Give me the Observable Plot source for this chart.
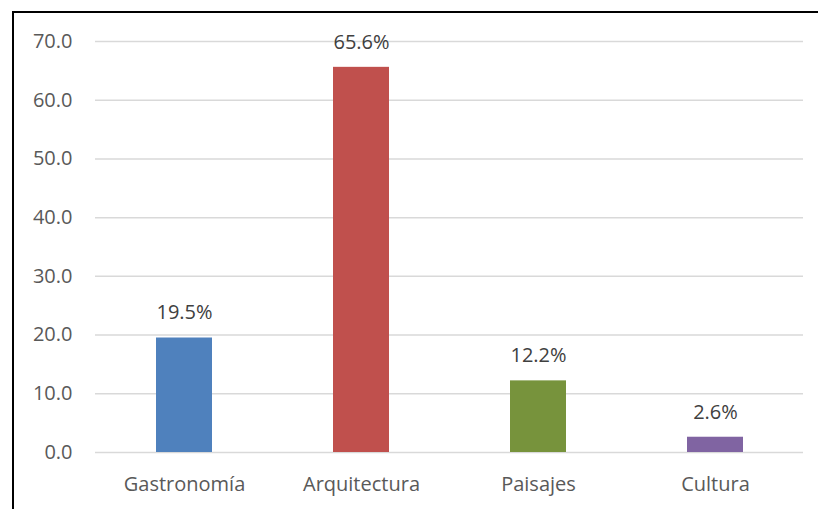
<!DOCTYPE html>
<html>
<head>
<meta charset="utf-8">
<script src="https://cdn.jsdelivr.net/npm/d3@7"></script>
<script src="https://cdn.jsdelivr.net/npm/@observablehq/plot@0.6"></script>
<style>
  html, body { margin: 0; padding: 0; background: #fff; }
  #wrap { position: relative; width: 818px; height: 509px; overflow: hidden; }
  #box { position: absolute; left: 12px; top: 11px; width: 830px; height: 520px;
         border-left: 2px solid #000; border-top: 2px solid #000; box-sizing: border-box; }
  #chart { position: absolute; left: 0; top: 0; }
</style>
</head>
<body>
<div id="wrap">
  <div id="box"></div>
  <div id="chart"></div>
</div>
<script>
const categories = ["Gastronomía", "Arquitectura", "Paisajes", "Cultura"];
const values = [19.5, 65.6, 12.2, 2.6];
const colors = ["#4F81BD", "#C0504D", "#77933C", "#8064A2"];
const yTicks = [0, 10, 20, 30, 40, 50, 60, 70];

const data = categories.map((c, i) => ({ cat: c, value: values[i], color: colors[i] }));

const chart = Plot.plot({
  width: 818,
  height: 509,
  marginLeft: 95,
  marginRight: 15,
  marginTop: 41,
  marginBottom: 57,
  style: { fontFamily: "'Open Sans', sans-serif", fontSize: "20px", background: "transparent", color: "#595959" },
  x: { domain: categories, paddingInner: 0.684, paddingOuter: 0.342, label: null },
  y: { domain: [0, 70], label: null },
  marks: [
    Plot.gridY(yTicks, { stroke: "#d9d9d9", strokeOpacity: 1, strokeWidth: 1.5 }),
    Plot.barY(data, { x: "cat", y: "value", fill: d => d.color }),
    Plot.text(data, { x: "cat", y: "value", text: d => d.value.toFixed(1) + "%", dy: -25, fill: "#404040", fontSize: 20 }),
    Plot.axisX({ tickSize: 0, tickPadding: 24, fontSize: 20, fill: "#595959", label: null }),
    Plot.axisY(yTicks, { tickSize: 0, tickPadding: 23, tickFormat: d => d.toFixed(1), fontSize: 20, fill: "#595959", label: null })
  ]
});
document.getElementById("chart").appendChild(chart);
</script>
</body>
</html>
